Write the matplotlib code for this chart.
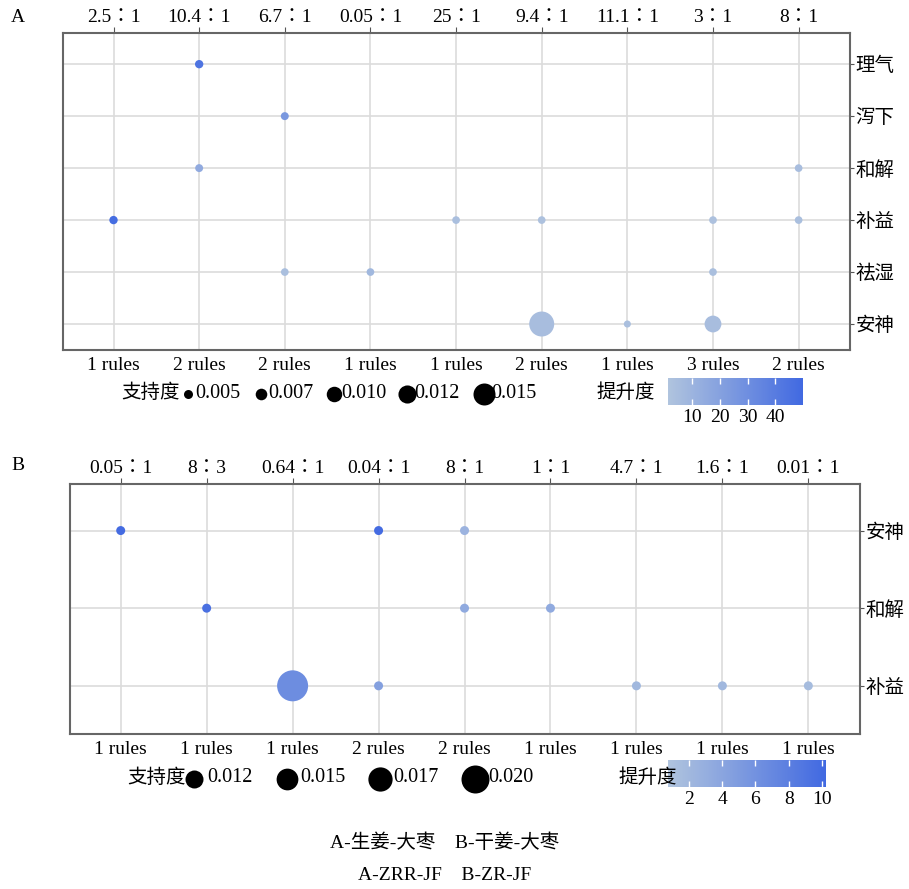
import numpy as np
import matplotlib
matplotlib.use("Agg")
import matplotlib.pyplot as plt
from matplotlib.colors import LinearSegmentedColormap, Normalize
from matplotlib.cm import ScalarMappable

plt.rcParams['font.family'] = ['Liberation Serif', 'Noto Sans CJK SC']
plt.rcParams['font.size'] = 14

# ---- panel A data ----
a_ratio = ['2.5：1', '10.4：1', '6.7：1', '0.05：1', '25：1', '9.4：1', '11.1：1', '3：1', '8：1']
a_rules = ['1 rules', '2 rules', '2 rules', '1 rules', '1 rules', '2 rules', '1 rules', '3 rules', '2 rules']
a_cats = ['安神', '祛湿', '补益', '和解', '泻下', '理气']   # bottom -> top
a_row = ['理气', '泻下', '和解', '和解', '补益', '补益', '补益', '补益', '补益',
         '祛湿', '祛湿', '祛湿', '安神', '安神', '安神']
a_col = [2, 3, 2, 9, 1, 5, 6, 8, 9, 3, 4, 8, 6, 7, 8]
a_support = [0.0045, 0.0042, 0.0042, 0.0040, 0.0045, 0.0040, 0.0040, 0.0040, 0.0040,
             0.0040, 0.0040, 0.0040, 0.0173, 0.0035, 0.011]
a_lift = [44, 25, 15, 5, 48, 4, 3, 3, 4, 4, 8, 4, 5, 4, 5]
a_leg_support = [0.005, 0.007, 0.010, 0.012, 0.015]

# ---- panel B data ----
b_ratio = ['0.05：1', '8：3', '0.64：1', '0.04：1', '8：1', '1：1', '4.7：1', '1.6：1', '0.01：1']
b_rules = ['1 rules', '1 rules', '1 rules', '2 rules', '2 rules', '1 rules', '1 rules', '1 rules', '1 rules']
b_cats = ['补益', '和解', '安神']
b_row = ['安神', '安神', '安神', '和解', '和解', '和解', '补益', '补益', '补益', '补益', '补益']
b_col = [1, 4, 5, 2, 5, 6, 3, 4, 7, 8, 9]
b_support = [0.0048, 0.0048, 0.0048, 0.0048, 0.0048, 0.0048, 0.0224, 0.0048, 0.0048, 0.0048, 0.0048]
b_lift = [10, 10, 2.5, 9.5, 3.5, 3.5, 6.5, 4.5, 2, 2, 1.6]
b_leg_support = [0.012, 0.015, 0.017, 0.020]

cmap = LinearSegmentedColormap.from_list('lift', ['#B0C4DE', '#4169E1'])
ratio_font = ['Liberation Serif', 'Noto Sans CJK JP']


def dia_a(s):
    return 2.5 + 1300 * np.asarray(s)


def dia_b(s):
    return 3 + 1250 * np.asarray(s)


def panel(ax, cats, ratio, rules, row, col, sup, lift, dia, norm, ylim):
    y = [cats.index(r) + 1 for r in row]
    d = dia(sup) * 0.72
    ax.scatter(col, y, s=d ** 2, c=lift, cmap=cmap, norm=norm, zorder=3, linewidths=0)
    ax.set_xlim(0.41, 9.6)
    ax.set_ylim(*ylim)
    ax.set_xticks(range(1, 10), rules)
    ax.set_yticks(range(1, len(cats) + 1), cats)
    ax.yaxis.tick_right()
    ax.tick_params(axis='x', length=0, pad=5)
    ax.tick_params(axis='y', length=3, color='#555555', pad=1)
    ax.grid(True, color='#dcdcdc', lw=1.2)
    ax.set_axisbelow(True)
    for sp in ax.spines.values():
        sp.set_color('#666666')
        sp.set_linewidth(1.5)
    top = ax.secondary_xaxis('top')
    top.set_xticks(range(1, 10), ratio)
    top.tick_params(length=4, color='#555555', pad=1)
    for lab in top.get_xticklabels():
        lab.set_family(ratio_font)
    top.spines['top'].set_visible(False)


fig = plt.figure(figsize=(9.09, 8.89), dpi=100)

axA = fig.add_axes([0.0693, 0.6063, 0.8658, 0.3566])
normA = Normalize(1.3, 50)
panel(axA, a_cats, a_ratio, a_rules, a_row, a_col, a_support, a_lift, dia_a, normA, (0.5, 6.6))

axB = fig.add_axes([0.077, 0.1744, 0.869, 0.2812])
normB = Normalize(0.73, 10.25)
panel(axB, b_cats, b_ratio, b_rules, b_row, b_col, b_support, b_lift, dia_b, normB, (0.38, 3.6))

# colorbars
for rect, norm, ticks in [([0.7349, 0.5444, 0.1485, 0.0304], normA, [10, 20, 30, 40]),
                          ([0.7349, 0.1147, 0.1738, 0.0304], normB, [2, 4, 6, 8, 10])]:
    cax = fig.add_axes(rect)
    cb = fig.colorbar(ScalarMappable(norm=norm, cmap=cmap), cax=cax, orientation='horizontal')
    cb.outline.set_visible(False)
    cb.set_ticks(ticks)
    cax.tick_params(direction='in', color='white', length=4, width=1, pad=3, top=True, labelsize=14)

# overlay in pixel coordinates for the size legends and labels
ov = fig.add_axes([0, 0, 1, 1])
ov.set_xlim(0, 909)
ov.set_ylim(889, 0)
ov.axis('off')

ov.text(151, 393, '支持度', ha='center', va='center', fontsize=14)
for x, s in zip([188, 261, 334, 407, 484], a_leg_support):
    ov.scatter(x, 394, s=(dia_a(s) * 0.72) ** 2, color='black', linewidths=0)
    ov.text(x + 7, 393, f'{s:.3f}', ha='left', va='center', fontsize=14.5)
ov.text(626, 393, '提升度', ha='center', va='center', fontsize=14)

ov.text(157, 778, '支持度', ha='center', va='center', fontsize=14)
for x, s in zip([194, 287, 380, 475], b_leg_support):
    ov.scatter(x, 779, s=(dia_b(s) * 0.72) ** 2, color='black', linewidths=0)
    ov.text(x + 13, 778, f'{s:.3f}', ha='left', va='center', fontsize=14.5)
ov.text(648, 778, '提升度', ha='center', va='center', fontsize=14)

ov.text(18, 18, 'A', ha='center', va='center', fontsize=14)
ov.text(18, 466, 'B', ha='center', va='center', fontsize=14)
ov.text(445, 843, 'A-生姜-大枣　B-干姜-大枣', ha='center', va='center', fontsize=14)
ov.text(445, 876, 'A-ZRR-JF　B-ZR-JF', ha='center', va='center', fontsize=14)

fig.savefig('out.png', dpi=100)
